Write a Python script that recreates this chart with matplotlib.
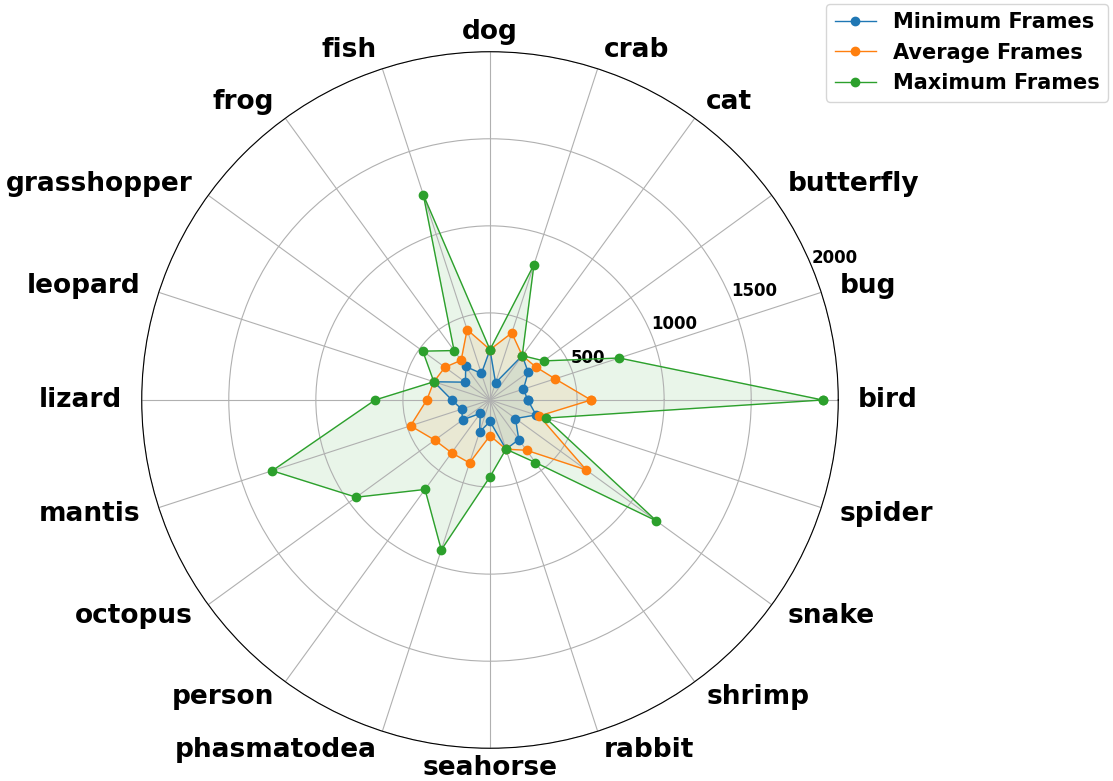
import numpy as np
import matplotlib
matplotlib.use("Agg")
import matplotlib.pyplot as plt

categories = ["bird", "bug", "butterfly", "cat", "crab", "dog", "fish", "frog",
              "grasshopper", "leopard", "lizard", "mantis", "octopus", "person",
              "phasmatodea", "seahorse", "rabbit", "shrimp", "snake", "spider"]

min_frames = [217, 202, 271, 315, 104, 289, 160, 238, 174, 339,
              219, 171, 195, 95, 194, 123, 297, 281, 181, 278]
avg_frames = [580, 393, 324, 315, 405, 289, 425, 282, 320, 339,
              363, 480, 392, 375, 380, 205, 297, 357, 683, 297]
max_frames = [1910, 780, 382, 315, 817, 289, 1240, 351, 477, 339,
              660, 1315, 950, 635, 905, 441, 297, 444, 1181, 337]

series_names = ["Minimum Frames", "Average Frames", "Maximum Frames"]
r_ticks = [500, 1000, 1500, 2000]

n = len(categories)
angles = np.linspace(0, 2 * np.pi, n, endpoint=False)
angles_closed = np.concatenate([angles, angles[:1]])

fig = plt.figure(figsize=(11.13, 7.81), dpi=100)
ax = fig.add_axes([0.1273, 0.0419, 0.6259, 0.8919], projection="polar")

colors = ["#1f77b4", "#ff7f0e", "#2ca02c"]
for name, vals, c in zip(series_names, [min_frames, avg_frames, max_frames], colors):
    v = np.concatenate([vals, vals[:1]])
    ax.plot(angles_closed, v, "o-", color=c, linewidth=1, label=name)
    ax.fill(angles_closed, v, color=c, alpha=0.1)

ax.set_ylim(0, 2000)
ax.set_yticks(r_ticks)
ax.set_yticklabels([str(t) for t in r_ticks], fontsize=12, fontweight="bold")
ax.set_xticks(angles)
ax.set_xticklabels(categories, fontsize=19, fontweight="bold")

for lab, ang in zip(ax.get_xticklabels(), angles):
    c = np.cos(ang)
    if abs(c) < 1e-6:
        lab.set_horizontalalignment("center")
    elif c > 0:
        lab.set_horizontalalignment("left")
    else:
        lab.set_horizontalalignment("right")

ax.legend(loc="upper right", bbox_to_anchor=(1108 / 1113, 1 - 4 / 781),
          bbox_transform=fig.transFigure, borderaxespad=0,
          prop={"weight": "bold", "size": 15})

fig.savefig("out.png", dpi=100)
